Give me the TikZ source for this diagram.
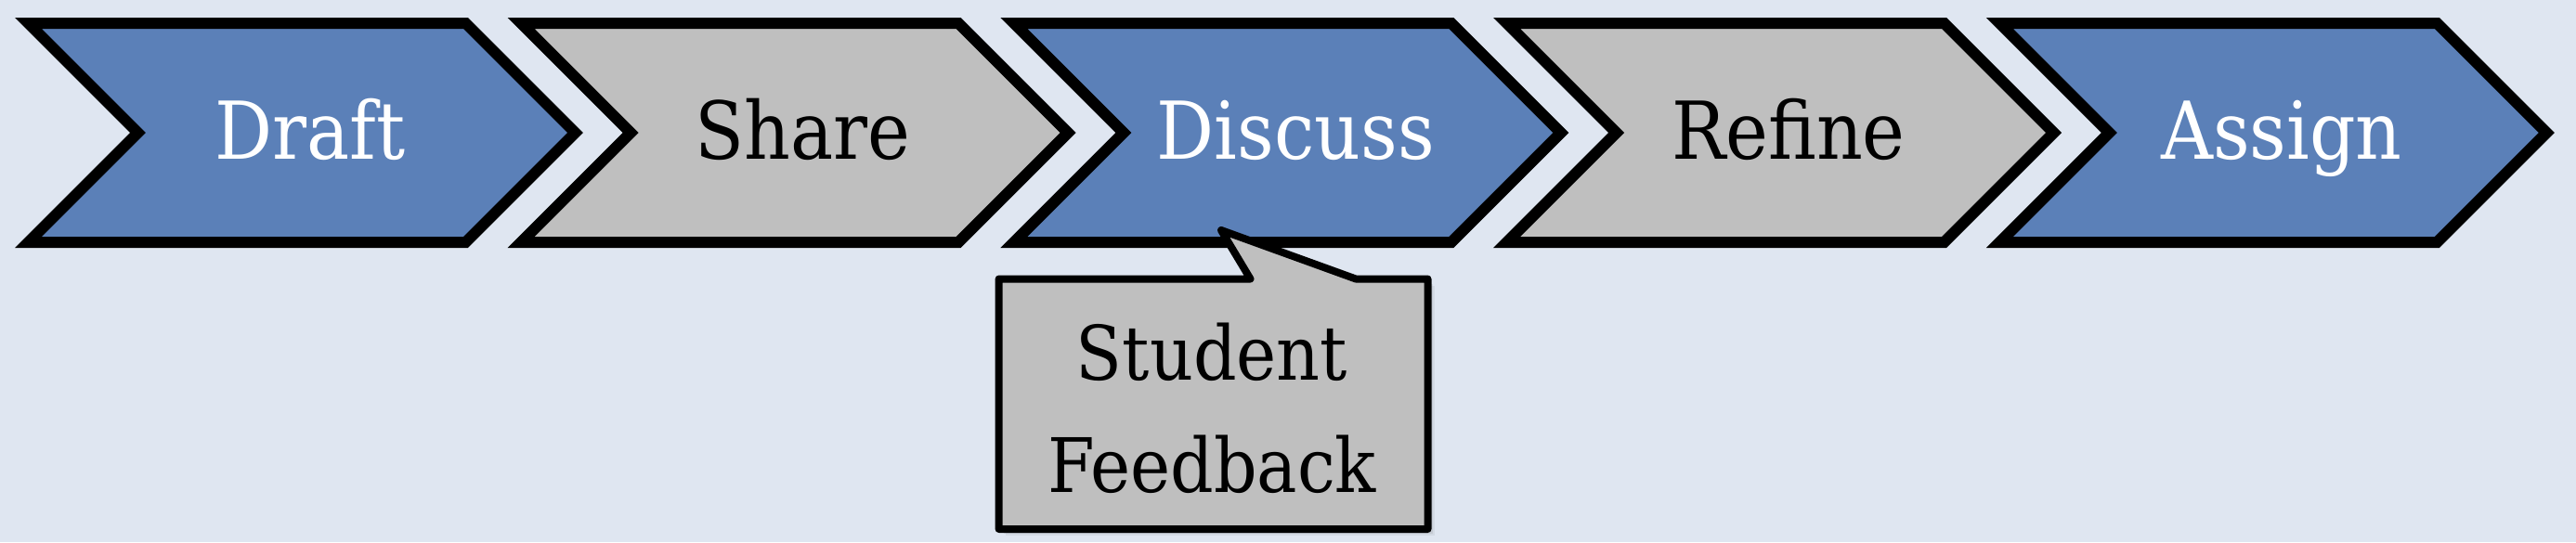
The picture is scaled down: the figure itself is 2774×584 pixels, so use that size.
\documentclass[tikz,border=0pt]{standalone}
\usepackage{fontspec}
\setmainfont{DejaVu Serif Condensed}
\begin{document}
\begin{tikzpicture}[x=1pt,y=-1pt,
  chev/.style={line width=12pt,line join=miter,draw=black},
  bluefill/.style={fill=stepblue},
  grayfill/.style={fill=stepgray},
  lbl/.style={inner sep=0pt,anchor=base,font=\fontsize{86}{100}\selectfont},
  callout/.style={line width=8pt,line join=round,draw=black,fill=stepgray}]
\definecolor{bg}{HTML}{DFE6F1}
\definecolor{stepblue}{HTML}{5B80B8}
\definecolor{stepgray}{HTML}{BFBFBF}
\useasboundingbox (0,0) rectangle (2774,584);
\fill[bg] (0,0) rectangle (2774,584);
\foreach \i/\t/\f/\c in {0/Draft/bluefill/white,1/Share/grayfill/black,2/Discuss/bluefill/white,3/Refine/grayfill/black,4/Assign/bluefill/white}{
  \begin{scope}[xshift=530.7*\i]
    \draw[chev,\f] (30.5,25) -- (501.5,25) -- (619.5,143) -- (501.5,261) -- (30.5,261) -- (148.5,143) -- cycle;
    \node[lbl,text=\c] (step\i) at (334,171) {\t};
  \end{scope}
}
% soft shadow
\foreach \o/\a in {7/0.05,5/0.07,3/0.09}{
  \fill[black,opacity=\a] (1075.6+\o,300.5+\o) rectangle (1537.5+\o,570+\o);
}
\draw[callout] (1075.6,300.5) -- (1346.5,300.5) -- (1315,248) -- (1460,300.5) -- (1537.5,300.5) -- (1537.5,570) -- (1075.6,570) -- cycle;
\node[lbl,font=\fontsize{81}{100}\selectfont] (fb1) at (1305,409) {Student};
\node[lbl,font=\fontsize{81}{100}\selectfont] (fb2) at (1305,530) {Feedback};
\end{tikzpicture}
\end{document}
